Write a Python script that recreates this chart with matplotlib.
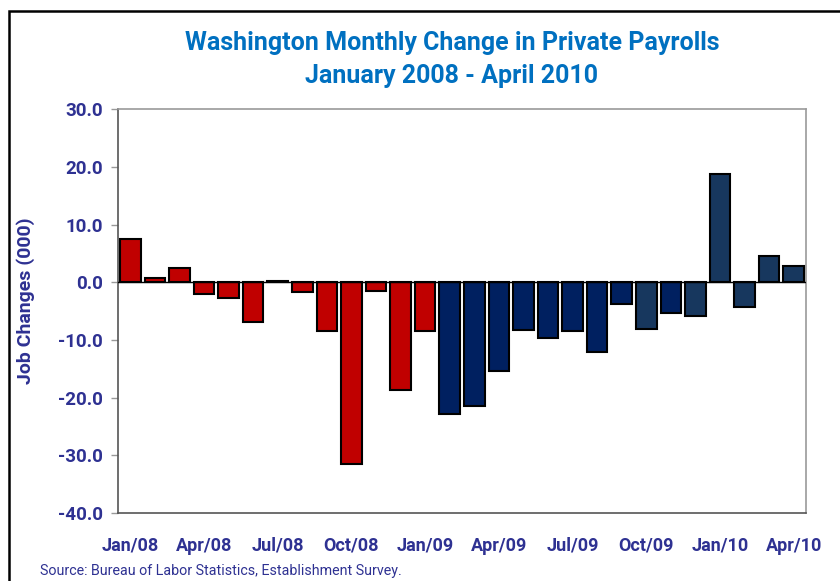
import matplotlib
matplotlib.use("Agg")
import matplotlib.pyplot as plt
from matplotlib.patches import Rectangle

months = ["Jan/08", "Feb/08", "Mar/08", "Apr/08", "May/08", "Jun/08", "Jul/08",
          "Aug/08", "Sep/08", "Oct/08", "Nov/08", "Dec/08", "Jan/09", "Feb/09",
          "Mar/09", "Apr/09", "May/09", "Jun/09", "Jul/09", "Aug/09", "Sep/09",
          "Oct/09", "Nov/09", "Dec/09", "Jan/10", "Feb/10", "Mar/10", "Apr/10"]
changes = [7.5, 0.8, 2.5, -2.0, -2.8, -6.8, 0.3, -1.7, -8.5, -31.5, -1.5, -18.7,
           -8.4, -22.8, -21.5, -15.4, -8.2, -9.6, -8.4, -12.0, -3.7, -8.1, -5.3,
           -5.8, 18.8, -4.3, 4.5, 2.8]
# colour group of each month: r = Jan/08..Jan/09, d = dark navy, l = lighter navy
groups = "r" * 13 + "d" * 8 + "ldl" + "l" * 4
colors = {"r": "#C00000", "d": "#002060", "l": "#17375E"}
yticks = [30, 20, 10, 0, -10, -20, -30, -40]

label_col = "#2E3192"
title_col = "#0070C0"
plt.rcParams["font.family"] = ["Roboto", "DejaVu Sans"]

fig = plt.figure(figsize=(8.4, 5.81), dpi=100)
ax = fig.add_axes([0.1405, 0.117, 0.819, 0.695])

x = list(range(len(changes)))
ax.bar(x, changes, width=0.84, color=[colors[g] for g in groups],
       edgecolor="black", linewidth=1.5, zorder=3)
ax.axhline(0, color="black", linewidth=1.0, zorder=4)

ax.set_xlim(-0.5, len(changes) - 0.5)
ax.set_ylim(-40, 30)
ax.set_yticks(yticks)
ax.set_yticklabels([f"{v:.1f}" for v in yticks], fontsize=13.5, fontweight="bold",
                   color=label_col)
ax.set_xticks(x[::3])
ax.set_xticklabels(months[::3], fontsize=13, fontweight="bold", color=label_col)
ax.tick_params(axis="x", length=0, pad=17)
ax.tick_params(axis="y", length=5, width=1, color="#999999", direction="out", pad=6)

for s in ax.spines.values():
    s.set_color("#9a9a9a")
    s.set_linewidth(1.2)
ax.spines["left"].set_color("#555555")
ax.spines["bottom"].set_color("#555555")

ax.set_ylabel("Job Changes (000)", fontsize=14, fontweight="bold", color=label_col)
ax.yaxis.set_label_coords(-0.12, 0.527)

fig.text(0.538, 0.926, "Washington Monthly Change in Private Payrolls", ha="center",
         va="center", fontsize=18, fontweight="bold", color=title_col)
fig.text(0.538, 0.869, "January 2008 - April 2010", ha="center", va="center",
         fontsize=18, fontweight="bold", color=title_col)
fig.text(0.048, 0.017, "Source: Bureau of Labor Statistics, Establishment Survey.",
         fontsize=10.3, color=label_col, ha="left", va="center")

border = Rectangle((9 / 840, -0.05), 1.1, 1 - 11 / 581 + 0.05, transform=fig.transFigure,
                   fill=False, edgecolor="black", linewidth=1.8, clip_on=False)
fig.patches.append(border)

fig.savefig("out.png", dpi=100)
